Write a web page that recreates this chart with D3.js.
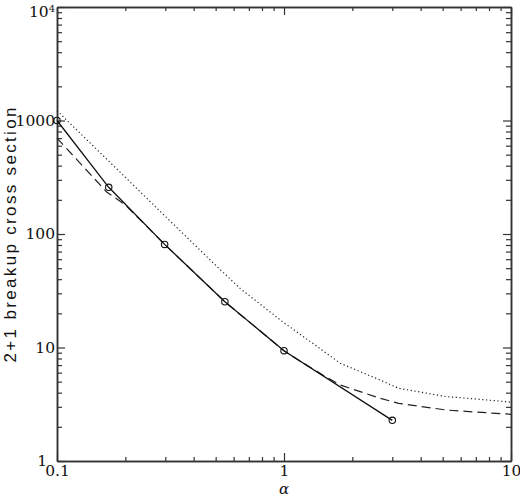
<!DOCTYPE html>
<html>
<head>
<meta charset="utf-8">
<script src="https://cdn.jsdelivr.net/npm/d3@7"></script>
<style>
  body { margin: 0; background: #fff; }
  svg { display: block; }
  .tick text { font-family: "DejaVu Serif", serif; font-size: 15.5px; fill: #111; }
  .domain { stroke: #333; stroke-width: 1.5; }
  .tick line { stroke: #333; stroke-width: 1.2; }
</style>
</head>
<body>
<div id="chart"></div>
<script>
// solid curve with circles
const solidX = [0.1, 0.169, 0.298, 0.549, 1.0, 3.0];
const solidY = [1000, 258, 81, 25.3, 9.37, 2.28];

// dashed curve
const dashX = [0.1, 0.165, 0.2, 0.3, 0.55, 1.0, 1.2, 1.5, 1.77, 2.65, 3.2, 5.2, 7, 10];
const dashY = [700, 236, 180, 80, 25.2, 9.35, 7.4, 5.65, 4.67, 3.57, 3.22, 2.81, 2.7, 2.58];

// dotted curve
const dotX = [0.1, 0.2, 0.3, 0.5, 0.64, 0.8, 1.0, 1.4, 1.77, 2.65, 3.2, 5.2, 7, 10];
const dotY = [1220, 316, 143, 53, 33.2, 23.4, 16.5, 10.2, 7.26, 5.17, 4.37, 3.69, 3.52, 3.3];

const xMajor = [0.1, 1, 10];
const xLabels = ["0.1", "1", "10"];
const yMajor = [1, 10, 100, 1000, 10000];
const yLabels = ["1", "10", "100", "1000", "10^4"];

const width = 520;
const height = 497;
const margin = { top: 7, right: 9, bottom: 36, left: 57 };

const svg = d3
  .select("#chart")
  .append("svg")
  .attr("width", width)
  .attr("height", height);

// Scales
const x = d3
  .scaleLog()
  .domain([0.1, 10])
  .range([margin.left, width - margin.right]);

const y = d3
  .scaleLog()
  .domain([1, 10000])
  .range([height - margin.bottom, margin.top]);

const isMajor = (v) => Math.abs(Math.log10(v) - Math.round(Math.log10(v))) < 1e-6;
const xMinor = x.ticks().filter((v) => !isMajor(v));
const yMinor = y.ticks().filter((v) => !isMajor(v));

const bottom = height - margin.bottom;
const right = width - margin.right;

// Minor ticks, all four sides, pointing inward
svg.append("g").attr("transform", `translate(0,${bottom})`)
  .call(d3.axisBottom(x).tickValues(xMinor).tickSize(-4).tickSizeOuter(0).tickFormat(""));
svg.append("g").attr("transform", `translate(0,${margin.top})`)
  .call(d3.axisTop(x).tickValues(xMinor).tickSize(-4).tickSizeOuter(0).tickFormat(""));
svg.append("g").attr("transform", `translate(${margin.left},0)`)
  .call(d3.axisLeft(y).tickValues(yMinor).tickSize(-5).tickSizeOuter(0).tickFormat(""));
svg.append("g").attr("transform", `translate(${right},0)`)
  .call(d3.axisRight(y).tickValues(yMinor).tickSize(-5).tickSizeOuter(0).tickFormat(""));

// Major ticks with labels
svg.append("g").attr("id", "x-axis").attr("transform", `translate(0,${bottom})`)
  .call(d3.axisBottom(x).tickValues(xMajor).tickSize(-8).tickSizeOuter(0).tickPadding(4)
    .tickFormat((d, i) => xLabels[i]));
svg.append("g").attr("transform", `translate(0,${margin.top})`)
  .call(d3.axisTop(x).tickValues(xMajor).tickSize(-8).tickSizeOuter(0).tickFormat(""));

const yAxisG = svg.append("g").attr("id", "y-axis").attr("transform", `translate(${margin.left},0)`)
  .call(d3.axisLeft(y).tickValues(yMajor).tickSize(-8).tickSizeOuter(0).tickPadding(2)
    .tickFormat((d, i) => yLabels[i]));
svg.append("g").attr("transform", `translate(${right},0)`)
  .call(d3.axisRight(y).tickValues(yMajor).tickSize(-8).tickSizeOuter(0).tickFormat(""));

// 10^4 with a superscript, and the "1" nudged left as in the original
yAxisG.selectAll(".tick text").each(function (d, i) {
  const t = d3.select(this);
  if (yLabels[i] === "10^4") {
    t.text("").attr("dy", "0.62em");
    t.append("tspan").text("10");
    t.append("tspan").attr("dy", "-0.5em").attr("font-size", "10px").text("4");
  }
  if (yLabels[i] === "1") t.attr("dx", "-8px");
});

// Curves
const line = d3.line().x((d) => x(d[0])).y((d) => y(d[1]));
const solid = solidX.map((v, i) => [v, solidY[i]]);
const dashed = dashX.map((v, i) => [v, dashY[i]]);
const dotted = dotX.map((v, i) => [v, dotY[i]]);

svg.append("path").datum(dotted).attr("d", line)
  .attr("fill", "none").attr("stroke", "#222").attr("stroke-width", 1.2)
  .attr("stroke-dasharray", "1.2,2.6");

svg.append("path").datum(dashed).attr("d", line)
  .attr("fill", "none").attr("stroke", "#222").attr("stroke-width", 1.2)
  .attr("stroke-dasharray", "9,5");

svg.append("path").datum(solid).attr("d", line)
  .attr("fill", "none").attr("stroke", "#111").attr("stroke-width", 1.3);

svg.selectAll(".pt").data(solid).enter().append("circle")
  .attr("class", "pt")
  .attr("cx", (d) => x(d[0]))
  .attr("cy", (d) => y(d[1]))
  .attr("r", 3.2)
  .attr("fill", "none")
  .attr("stroke", "#111")
  .attr("stroke-width", 1.1);

// Axis titles
svg.append("text")
  .attr("x", x(1))
  .attr("y", 494)
  .attr("text-anchor", "middle")
  .attr("font-family", "DejaVu Serif, serif")
  .attr("font-style", "italic")
  .attr("font-size", "15px")
  .attr("fill", "#111")
  .text("α");

svg.append("text")
  .attr("transform", "translate(16,235) rotate(-90)")
  .attr("text-anchor", "middle")
  .attr("font-family", "Liberation Sans, Arial, sans-serif")
  .attr("font-size", "17px")
  .attr("textLength", 255)
  .attr("lengthAdjust", "spacing")
  .attr("fill", "#111")
  .text("2+1 breakup cross section");
</script>
</body>
</html>
